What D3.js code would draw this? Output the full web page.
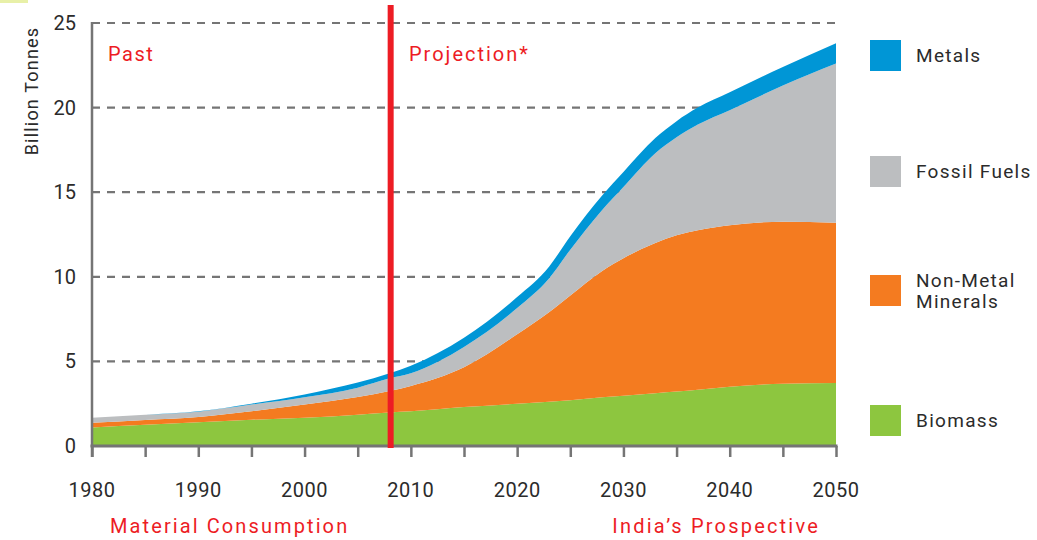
<!DOCTYPE html>
<html>
<head>
<meta charset="utf-8">
<script src="https://cdn.jsdelivr.net/npm/d3@7"></script>
<style>
  body { margin: 0; background: #fff; }
  svg text { font-family: Roboto, "DejaVu Sans", sans-serif; }
</style>
</head>
<body>
<div class="chart"></div>
<script>
// values, billion tonnes per layer
const years    = [1980,1985,1990,1995,2000,2005,2008,2010,2015,2020,2023,2025,2028,2030,2033,2035,2037,2040,2045,2050];
const biomass  = [1.1,1.25,1.4,1.55,1.67,1.85,1.98,2.05,2.3,2.5,2.62,2.7,2.88,2.97,3.12,3.22,3.33,3.5,3.68,3.72];
const nonMetal = [0.28,0.29,0.32,0.5,0.78,1.05,1.27,1.5,2.35,4.1,5.28,6.2,7.47,8.13,8.88,9.23,9.42,9.55,9.57,9.48];
const fossil   = [0.29,0.3,0.31,0.4,0.43,0.55,0.75,0.75,1.2,1.55,2.0,2.7,3.6,4.2,5.3,5.8,6.25,6.8,8.05,9.4];
const metals   = [0,0.01,0.02,0.05,0.17,0.3,0.3,0.45,0.55,0.65,0.7,0.8,0.85,0.9,0.9,0.95,1.0,1.05,1.1,1.2];

const seriesNames = ['Biomass', 'Non-Metal Minerals', 'Fossil Fuels', 'Metals'];
const legendLabels = [['Metals'], ['Fossil Fuels'], ['Non-Metal', 'Minerals'], ['Biomass']];
const yTicks = [0, 5, 10, 15, 20, 25];
const xTicks = [1980, 1990, 2000, 2010, 2020, 2030, 2040, 2050];
const splitYear = 2008.1;

const colors = {
  'Biomass': '#8dc63f',
  'Non-Metal Minerals': '#f47b20',
  'Fossil Fuels': '#bcbec0',
  'Metals': '#0096d6'
};
const red = '#ed1c24';
const axisGrey = '#757575';

const data = years.map((y, i) => ({
  year: y,
  'Biomass': biomass[i],
  'Non-Metal Minerals': nonMetal[i],
  'Fossil Fuels': fossil[i],
  'Metals': metals[i]
}));

const W = 1037, H = 540;
const x = d3.scaleLinear().domain([1980, 2050]).range([92, 836]);
const y = d3.scaleLinear().domain([0, 25]).range([446, 23]);

const svg = d3.select('.chart').append('svg')
  .attr('width', W)
  .attr('height', H);

// little mark in the corner
svg.append('rect')
  .attr('x', 0).attr('y', 0)
  .attr('width', 28).attr('height', 3)
  .attr('fill', '#e8f0a8');

// dashed grid
svg.append('g')
  .selectAll('line')
  .data(yTicks.filter(d => d > 0))
  .enter()
  .append('line')
  .attr('x1', x(1980)).attr('x2', x(2050))
  .attr('y1', d => y(d)).attr('y2', d => y(d))
  .attr('stroke', axisGrey)
  .attr('stroke-width', 2.2)
  .attr('stroke-dasharray', '8,7');

const stack = d3.stack().keys(seriesNames);
const layers = stack(data);

const area = d3.area()
  .x(d => x(d.data.year))
  .y0(d => y(d[0]))
  .y1(d => y(d[1]))
  .curve(d3.curveMonotoneX);

svg.append('g')
  .selectAll('path')
  .data(layers)
  .enter()
  .append('path')
  .attr('fill', d => colors[d.key])
  .attr('d', area);

// axes
const xAxis = d3.axisBottom(x)
  .tickValues(d3.range(1980, 2051, 5))
  .tickSize(11)
  .tickFormat('');
const gx = svg.append('g')
  .attr('transform', `translate(0, ${y(0)})`)
  .call(xAxis);
gx.select('.domain').attr('stroke', axisGrey).attr('stroke-width', 3).attr('d', `M${x(1980) - 1.5},0H${x(2050) + 1.5}`);
gx.selectAll('.tick line').attr('stroke', axisGrey).attr('stroke-width', 2.5);

svg.append('line')
  .attr('x1', x(1980)).attr('x2', x(1980))
  .attr('y1', y(25) - 1).attr('y2', y(0) + 11)
  .attr('stroke', axisGrey)
  .attr('stroke-width', 2.5);

svg.append('g')
  .selectAll('text')
  .data(xTicks)
  .enter()
  .append('text')
  .attr('x', d => x(d))
  .attr('y', 497)
  .attr('text-anchor', 'middle')
  .attr('fill', '#2b2b2b')
  .style('font-size', '20px')
  .style('letter-spacing', '0.5px')
  .text(d => d);

svg.append('g')
  .selectAll('text')
  .data(yTicks)
  .enter()
  .append('text')
  .attr('x', 76)
  .attr('y', d => y(d) + 7)
  .attr('text-anchor', 'end')
  .attr('fill', '#2b2b2b')
  .style('font-size', '20px')
  .text(d => d);

svg.append('text')
  .attr('transform', 'translate(38, 91) rotate(-90)')
  .attr('text-anchor', 'middle')
  .attr('fill', '#2b2b2b')
  .style('font-size', '18px')
  .style('letter-spacing', '1.2px')
  .text('Billion Tonnes');

// past / projection divider
svg.append('line')
  .attr('x1', x(splitYear)).attr('x2', x(splitYear))
  .attr('y1', 5).attr('y2', y(0) + 2)
  .attr('stroke', red)
  .attr('stroke-width', 6);

svg.append('text')
  .attr('x', 108).attr('y', 61)
  .attr('fill', red)
  .style('font-size', '20px')
  .style('letter-spacing', '1.5px')
  .text('Past');

svg.append('text')
  .attr('x', 409).attr('y', 61)
  .attr('fill', red)
  .style('font-size', '20px')
  .style('letter-spacing', '2px')
  .text('Projection*');

svg.append('text')
  .attr('x', 110).attr('y', 533)
  .attr('fill', red)
  .style('font-size', '20px')
  .style('letter-spacing', '2.1px')
  .text('Material Consumption');

svg.append('text')
  .attr('x', 820).attr('y', 533)
  .attr('text-anchor', 'end')
  .attr('fill', red)
  .style('font-size', '20px')
  .style('letter-spacing', '2.2px')
  .text('India\u2019s Prospective');

// legend
const legendKeys = ['Metals', 'Fossil Fuels', 'Non-Metal Minerals', 'Biomass'];
const legendTop = [40, 156, 275, 405];

const legend = svg.append('g')
  .selectAll('g')
  .data(legendKeys)
  .enter()
  .append('g')
  .attr('transform', (d, i) => `translate(870, ${legendTop[i]})`);

legend.append('rect')
  .attr('width', 31).attr('height', 31)
  .attr('fill', d => colors[d]);

legend.append('text')
  .attr('x', 46)
  .attr('fill', '#2b2b2b')
  .style('font-size', '19px')
  .style('letter-spacing', '1.3px')
  .each(function(d, i) {
    const lines = legendLabels[i];
    const t = d3.select(this);
    lines.forEach((l, j) => {
      t.append('tspan')
        .attr('x', 46)
        .attr('y', 22 - (lines.length - 1) * 10.5 + j * 21)
        .text(l);
    });
  });
</script>
</body>
</html>
